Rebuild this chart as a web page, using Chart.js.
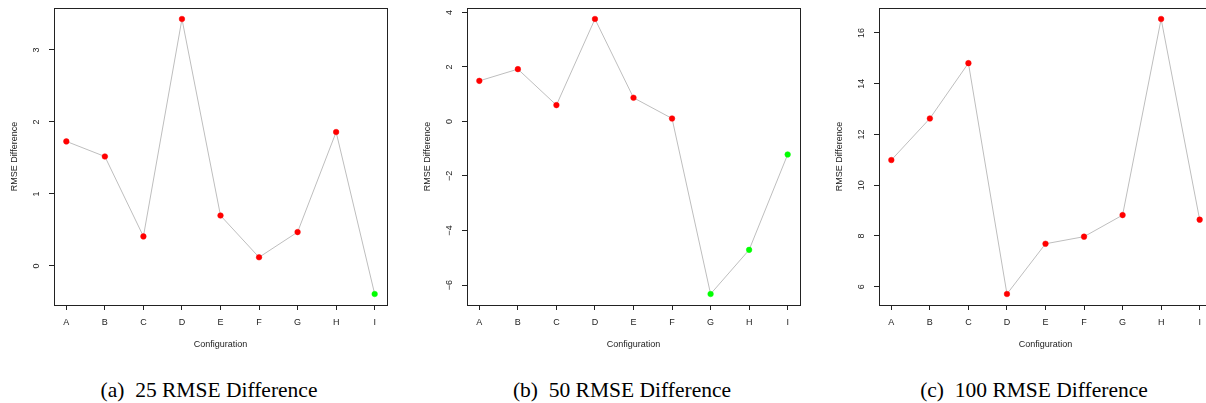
<!DOCTYPE html>
<html>
<head>
<meta charset="utf-8">
<script src="https://cdn.jsdelivr.net/npm/chart.js@4"></script>
<style>
  html, body { margin: 0; padding: 0; background: #fff; }
  body { width: 1206px; height: 403px; overflow: hidden; position: relative; }
  .panel { position: absolute; top: 0; width: 400px; height: 403px; }
  .panel canvas { position: absolute; left: 0; top: 0; }
  .caption {
    position: absolute; left: 0; top: 379px; width: 418px;
    text-align: center; white-space: nowrap; color: #000;
    font-family: 'Liberation Serif', 'Times New Roman', serif;
    font-size: 21.5px; line-height: 22px;
  }
</style>
</head>
<body>
<div class="panel" style="left:0px"><canvas id="c25" width="400" height="360"></canvas><div class="caption">(a)&ensp;25 RMSE Difference</div></div>
<div class="panel" style="left:413px"><canvas id="c50" width="400" height="360"></canvas><div class="caption">(b)&ensp;50 RMSE Difference</div></div>
<div class="panel" style="left:825px"><canvas id="c100" width="400" height="360"></canvas><div class="caption">(c)&ensp;100 RMSE Difference</div></div>
<script>
const configs = ['A', 'B', 'C', 'D', 'E', 'F', 'G', 'H', 'I']
const rmse25 = [1.73, 1.52, 0.41, 3.43, 0.70, 0.12, 0.47, 1.86, -0.39]
const rmse50 = [1.49, 1.92, 0.60, 3.76, 0.87, 0.11, -6.33, -4.71, -1.21]
const rmse100 = [10.99, 12.63, 14.81, 5.71, 7.69, 7.97, 8.82, 16.55, 8.64]
const yTicks25 = [0, 1, 2, 3]
const yTicks50 = [-6, -4, -2, 0, 2, 4]
const yTicks100 = [6, 8, 10, 12, 14, 16]

const ink = '#222'
const font = { family: "'Liberation Sans', Arial, sans-serif", size: 9 }

// R pads each axis by 4% of the data range
function rRange (vals) {
  const lo = Math.min(...vals)
  const hi = Math.max(...vals)
  const d = (hi - lo) * 0.04
  return [lo - d, hi + d]
}

// box round the plot area and y labels turned to read upwards, like base R
const rBox = {
  id: 'rBox',
  afterDraw (chart) {
    const { ctx, chartArea: a } = chart
    const y = chart.scales.y
    ctx.save()
    ctx.strokeStyle = ink
    ctx.lineWidth = 1
    ctx.strokeRect(Math.round(a.left) + 0.5, Math.round(a.top) + 0.5,
      Math.round(a.right - a.left), Math.round(a.bottom - a.top))
    ctx.fillStyle = ink
    ctx.font = font.size + 'px ' + font.family
    ctx.textAlign = 'center'
    ctx.textBaseline = 'middle'
    y.ticks.forEach(t => {
      ctx.save()
      ctx.translate(a.left - 17, y.getPixelForValue(t.value))
      ctx.rotate(-Math.PI / 2)
      ctx.fillText(String(t.value).replace('-', '\u2212'), 0, 0)
      ctx.restore()
    })
    ctx.restore()
  }
}

function makeChart (id, values, yTicks) {
  const [ymin, ymax] = rRange(values)
  const pointColors = values.map(v => v < 0 ? '#00ff00' : '#ff0000')
  return new Chart(document.getElementById(id), {
    type: 'line',
    data: {
      datasets: [{
        data: values.map((v, i) => ({ x: i, y: v })),
        borderColor: '#bebebe',
        borderWidth: 1,
        tension: 0,
        pointRadius: 2.8,
        pointBackgroundColor: pointColors,
        pointBorderColor: pointColors,
        pointBorderWidth: 0.5
      }]
    },
    options: {
      responsive: false,
      animation: false,
      layout: { padding: { left: 0, top: 8, right: 13, bottom: 5 } },
      plugins: { legend: { display: false }, tooltip: { enabled: false } },
      scales: {
        x: {
          type: 'linear',
          min: -0.32,
          max: configs.length - 1 + 0.32,
          afterBuildTicks: s => { s.ticks = configs.map((c, i) => ({ value: i })) },
          afterFit: s => { s.height = 50 },
          grid: { drawOnChartArea: false, drawTicks: true, tickLength: 5, color: ink },
          border: { display: false },
          ticks: { font, color: ink, padding: 7, autoSkip: false, maxRotation: 0, callback: v => configs[v] },
          title: { display: true, text: 'Configuration', font, color: ink, padding: { top: 0, bottom: 5 } }
        },
        y: {
          min: ymin,
          max: ymax,
          afterBuildTicks: s => { s.ticks = yTicks.map(v => ({ value: v })) },
          afterFit: s => { s.width = 54 },
          grid: { drawOnChartArea: false, drawTicks: true, tickLength: 5, color: ink },
          border: { display: false },
          ticks: { display: false },
          title: { display: true, text: 'RMSE Difference', font, color: ink, padding: { top: 9, bottom: 0 } }
        }
      }
    },
    plugins: [rBox]
  })
}

makeChart('c25', rmse25, yTicks25)
makeChart('c50', rmse50, yTicks50)
makeChart('c100', rmse100, yTicks100)
</script>
</body>
</html>
